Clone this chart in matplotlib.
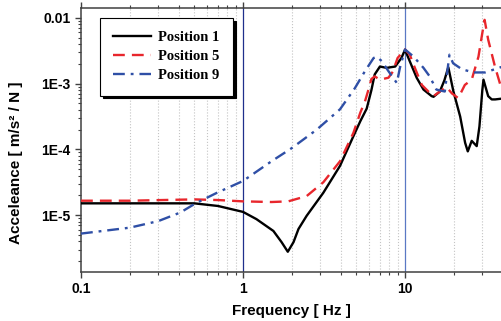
import numpy as np
import matplotlib
matplotlib.use("Agg")
import matplotlib.pyplot as plt
from matplotlib.ticker import FixedLocator, NullFormatter, LogLocator

# values (frequency in Hz, log10 of acceleance)
pos1_freq = [0.1, 0.2, 0.3, 0.5, 0.7, 1.0, 1.21, 1.54, 1.73, 1.89, 2.05, 2.2, 2.47,
             3.13, 3.97, 4.8, 5.3, 5.8, 6.2, 6.5, 7.0, 7.7, 8.7, 9.5, 10.0, 10.7,
             11.8, 13.0, 14.6, 15.0, 16.4, 17.5, 18.5, 19.9, 21.9, 23.5, 24.4, 25.8,
             27.7, 28.8, 30.0, 30.5, 32.6, 34.3, 36.0, 39.0, 44.5]
pos1_log = [-4.82, -4.82, -4.82, -4.82, -4.86, -4.95, -5.06, -5.24, -5.41, -5.556, -5.41,
            -5.21, -5.01, -4.66, -4.25, -3.80, -3.57, -3.38, -3.10, -2.86, -2.74, -2.76,
            -2.74, -2.61, -2.485, -2.66, -2.91, -3.09, -3.19, -3.20, -3.12, -2.95, -2.75,
            -3.12, -3.50, -3.90, -4.03, -3.87, -3.95, -3.65, -3.10, -2.94, -3.19, -3.24,
            -3.24, -3.23, -3.23]

pos5_freq = [0.1, 0.2, 0.5, 0.7, 1.0, 1.5, 1.9, 2.47, 3.13, 3.97, 4.8, 5.3, 5.66,
             6.0, 6.2, 6.5, 7.0, 7.9, 8.4, 9.0, 10.0, 10.7, 11.5, 12.7, 14.2, 15.0,
             16.4, 18.0, 19.5, 21.3, 23.4, 25.8, 28.4, 30.0, 31.0, 32.6, 35.9, 39.0, 44.5]
pos5_log = [-4.78, -4.78, -4.76, -4.77, -4.79, -4.80, -4.79, -4.71, -4.50, -4.18, -3.75,
            -3.44, -3.27, -3.06, -2.93, -2.89, -2.94, -2.91, -2.82, -2.61, -2.48, -2.56,
            -2.76, -3.02, -3.14, -3.19, -3.12, -3.05, -3.15, -3.22, -3.02, -2.94, -2.59,
            -2.23, -2.03, -2.33, -2.74, -3.04, -3.40]

pos9_freq = [0.1, 0.2, 0.3, 0.41, 0.51, 0.69, 1.0, 1.5, 2.0, 2.85, 3.97, 4.9, 5.66,
             6.4, 6.7, 7.2, 7.9, 8.9, 9.3, 10.0, 11.3, 13.0, 14.2, 15.6, 17.6, 18.8,
             19.8, 22.4, 26.4, 31.2, 35.9, 39.0, 44.5]
pos9_log = [-5.28, -5.19, -5.09, -4.96, -4.82, -4.66, -4.48, -4.18, -3.98, -3.70, -3.39,
            -3.07, -2.81, -2.61, -2.59, -2.66, -2.81, -2.99, -2.76, -2.48, -2.59, -2.76,
            -2.89, -3.09, -3.12, -2.56, -2.69, -2.78, -2.83, -2.83, -2.78, -2.75, -2.74]

ytick_vals = [1e-5, 1e-4, 1e-3, 1e-2]
ytick_labels = ["1E-5", "1E-4", "1E-3", "0.01"]
xtick_vals = [0.1, 1, 10]
xtick_labels = ["0.1", "1", "10"]

red = "#e8262c"
blue = "#2f4fa6"
spine_col = "#404040"

fig = plt.figure(figsize=(5.01, 3.21), dpi=100)
ax = fig.add_axes([81 / 501, 49 / 321, 429 / 501, 264 / 321])
ax.set_xscale("log")
ax.set_yscale("log")
ax.set_xlim(0.1, 10 ** 1.648)
ax.set_ylim(10 ** -5.864, 10 ** -1.85)

# dotted vertical grid at minor decades
minor_x = [m * 10.0 ** e for e in (-1, 0, 1) for m in range(2, 10)]
for xv in minor_x:
    ax.axvline(xv, color="#c4c4c4", lw=0.8, ls=":", zorder=0)
ax.axvline(1, color="#1f2f8c", lw=0.9, zorder=1)
ax.axvline(10, color="#5a78c4", lw=0.9, zorder=1)

ax.plot(pos1_freq, 10 ** np.array(pos1_log), color="black", lw=1.7, label="Position 1", zorder=3)
ax.plot(pos5_freq, 10 ** np.array(pos5_log), color=red, lw=1.7, ls=(0, (5, 3)), label="Position 5", zorder=3)
ax.plot(pos9_freq, 10 ** np.array(pos9_log), color=blue, lw=1.7, ls=(0, (5, 2.5, 1.2, 2.5)), label="Position 9", zorder=3)

for s in ax.spines.values():
    s.set_color(spine_col)
    s.set_linewidth(1.1)
ax.spines["right"].set_visible(False)

ax.xaxis.set_major_locator(FixedLocator(xtick_vals))
ax.set_xticklabels(xtick_labels)
ax.xaxis.set_minor_locator(FixedLocator(minor_x))
ax.xaxis.set_minor_formatter(NullFormatter())
ax.yaxis.set_major_locator(FixedLocator(ytick_vals))
ax.set_yticklabels(ytick_labels)
ax.yaxis.set_minor_locator(LogLocator(base=10, subs=np.arange(2, 10)))
ax.yaxis.set_minor_formatter(NullFormatter())

ax.tick_params(which="major", direction="out", length=4, width=1, color=spine_col,
               top=True, labeltop=False)
ax.tick_params(which="minor", direction="out", length=2, width=0.8, color=spine_col, top=True)
for lab in ax.get_xticklabels() + ax.get_yticklabels():
    lab.set_fontfamily("Liberation Sans")
    lab.set_fontweight("bold")
    lab.set_fontsize(10)

ax.set_xlabel("Frequency [ Hz ]", fontfamily="Liberation Sans", fontweight="bold", fontsize=11)
ax.set_ylabel("Acceleance [ m/s² / N ]", fontfamily="Liberation Sans", fontweight="bold", fontsize=11)
ax.xaxis.set_label_coords((291 - 81) / 429, -(304 - 272) / 264)
ax.yaxis.set_label_coords(-(81 - 23) / 429, (272 - 163) / 264)

leg = ax.legend(loc="upper left", bbox_to_anchor=(19 / 429, 1 - 10 / 264), borderaxespad=0,
                fancybox=False, shadow={"color": "black", "alpha": 1}, handlelength=2.6,
                labelspacing=0.4, borderpad=0.9, handletextpad=0.5,
                prop={"family": "Liberation Serif", "weight": "bold", "size": 10.5})
leg.get_frame().set_edgecolor("black")
leg.get_frame().set_linewidth(0.8)
leg.get_frame().set_alpha(1)

fig.savefig("out.png", dpi=100)
